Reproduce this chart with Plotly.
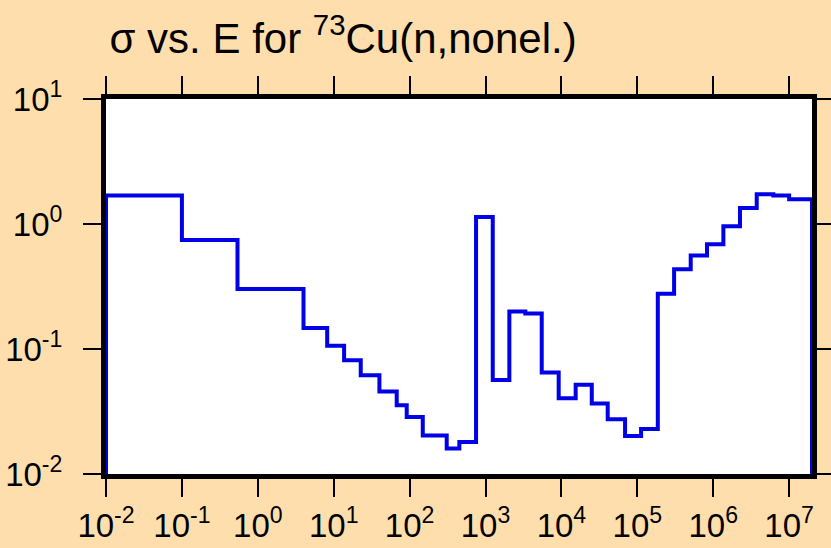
import plotly.graph_objects as go

# Bin edges (energy, eV) and cross-section values per bin (b)
energy_edges = [1e-2, 0.1, 0.54, 4.0, 8.2, 13.7, 22.7, 40.0, 67.6, 91.6, 149, 308, 452, 750,
                1245, 2060, 3345, 5500, 9200, 15400, 25100, 40700, 68900, 1.12e5, 1.86e5,
                3.05e5, 5.05e5, 8.28e5, 1.36e6, 2.25e6, 3.74e6, 6.19e6, 1.0e7, 2.0e7]
sigma_values = [1.69, 0.746, 0.302, 0.147, 0.106, 0.0811, 0.0618, 0.0457, 0.0355, 0.0286,
                0.0203, 0.0160, 0.0180, 1.14, 0.0564, 0.1995, 0.192, 0.065, 0.0404, 0.0517,
                0.0366, 0.0274, 0.0201, 0.0229, 0.277, 0.434, 0.561, 0.689, 0.960, 1.34,
                1.73, 1.69, 1.58]

x_tick_vals = [1e-2, 1e-1, 1e0, 1e1, 1e2, 1e3, 1e4, 1e5, 1e6, 1e7]
x_tick_text = ["10<sup>-2</sup>", "10<sup>-1</sup>", "10<sup>0</sup>", "10<sup>1</sup>",
               "10<sup>2</sup>", "10<sup>3</sup>", "10<sup>4</sup>", "10<sup>5</sup>",
               "10<sup>6</sup>", "10<sup>7</sup>"]
y_tick_vals = [1e-2, 1e-1, 1e0, 1e1]
y_tick_text = ["10<sup>-2</sup>", "10<sup>-1</sup>", "10<sup>0</sup>", "10<sup>1</sup>"]

y_floor = 1e-2
xs = [energy_edges[0]] + energy_edges + [energy_edges[-1]]
ys = [y_floor] + sigma_values + [sigma_values[-1], y_floor]

fig = go.Figure()
fig.add_trace(go.Scatter(x=xs, y=ys, mode="lines", line_shape="hv",
                         line=dict(color="rgb(0,0,230)", width=4),
                         cliponaxis=False, showlegend=False))

font_family = "Liberation Sans, Arial, sans-serif"
axis_common = dict(type="log", showgrid=False, zeroline=False, automargin=False,
                   showline=True, linecolor="black", linewidth=5, mirror="allticks",
                   ticks="outside", ticklen=18, tickwidth=2, tickcolor="black",
                   tickfont=dict(family=font_family, size=33, color="black"))

fig.update_layout(
    width=831, height=548,
    margin=dict(l=106, r=19, t=99, b=74),
    paper_bgcolor="#FFDEAD", plot_bgcolor="white",
    title=dict(text="σ vs. E for <sup>73</sup>Cu(n,nonel.)",
               font=dict(family=font_family, size=42, color="black"),
               x=0.005, xref="paper", xanchor="left",
               y=1 - 38 / 548, yref="container", yanchor="middle"),
    xaxis=dict(range=[-2, 7.301], tickvals=x_tick_vals, ticktext=x_tick_text, **axis_common),
    yaxis=dict(range=[-2, 1], tickvals=y_tick_vals, ticktext=y_tick_text,
               ticklabelstandoff=14, **axis_common),
)

fig.write_html(
    "out.html",
    config={"displayModeBar": False},
    post_script="document.body.style.margin='0';document.body.style.background='#FFDEAD';",
)
